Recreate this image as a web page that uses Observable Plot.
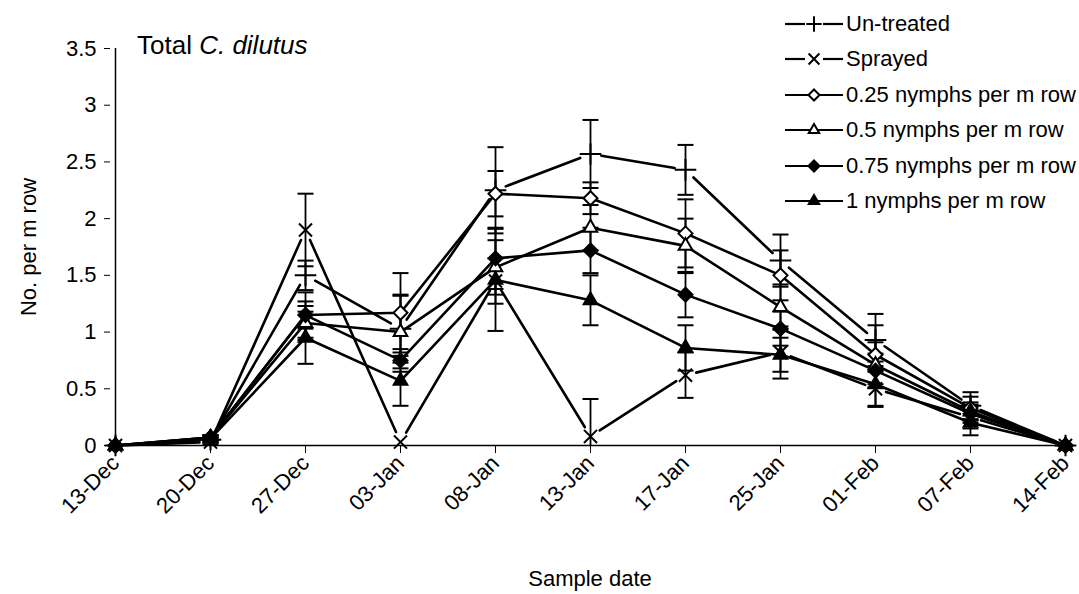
<!DOCTYPE html>
<html><head><meta charset="utf-8">
<script src="https://cdn.jsdelivr.net/npm/d3@7"></script>
<script src="https://cdn.jsdelivr.net/npm/@observablehq/plot@0.6"></script>
<style>
body{margin:0;background:#fff;font-family:"Liberation Sans",Arial,sans-serif;}
#wrap{position:relative;width:1079px;height:594px;overflow:hidden;}
#title{position:absolute;left:137px;top:30px;font-size:26px;color:#000;}
#legend{position:absolute;left:783px;top:6px;font-size:22px;color:#000;}
.row{display:flex;align-items:center;height:35.5px;}
.row svg{margin-right:1px;}
</style></head><body><div id="wrap"><div id="title">Total <i>C. dilutus</i></div><div id="legend"></div></div>
<script>
const dates = ["13-Dec","20-Dec","27-Dec","03-Jan","08-Jan","13-Jan","17-Jan","25-Jan","01-Feb","07-Feb","14-Feb"];
const yTicks = [0, 0.5, 1, 1.5, 2, 2.5, 3, 3.5];
const seriesNames = ["Un-treated","Sprayed","0.25 nymphs per m row","0.5 nymphs per m row","0.75 nymphs per m row","1 nymphs per m row"];

const untreated   = [0, 0.05, 1.50, 1.03, 2.25, 2.57, 2.43, 1.63, 0.93, 0.35, 0];
const sprayed     = [0, 0.03, 1.90, 0.03, 1.45, 0.08, 0.62, 0.82, 0.50, 0.25, 0];
const n025        = [0, 0.07, 1.15, 1.17, 2.22, 2.18, 1.87, 1.50, 0.80, 0.33, 0];
const n05         = [0, 0.07, 1.08, 1.00, 1.57, 1.92, 1.76, 1.22, 0.71, 0.30, 0];
const n075        = [0, 0.07, 1.15, 0.75, 1.65, 1.72, 1.33, 1.03, 0.66, 0.28, 0];
const n1          = [0, 0.06, 0.95, 0.57, 1.46, 1.28, 0.86, 0.80, 0.54, 0.20, 0];

const untreatedErr = [0, 0.02, 0.13, 0.30, 0.38, 0.30, 0.22, 0.23, 0.23, 0.12, 0];
const sprayedErr   = [0, 0.02, 0.32, 0.00, 0.20, 0.33, 0.20, 0.23, 0.15, 0.10, 0];
const n025Err      = [0, 0.02, 0.20, 0.35, 0.20, 0.14, 0.30, 0.22, 0.26, 0.10, 0];
const n05Err       = [0, 0.02, 0.15, 0.32, 0.24, 0.20, 0.24, 0.20, 0.20, 0.08, 0];
const n075Err      = [0, 0.02, 0.12, 0.10, 0.27, 0.20, 0.20, 0.15, 0.15, 0.08, 0];
const n1Err        = [0, 0.02, 0.23, 0.22, 0.45, 0.22, 0.20, 0.15, 0.20, 0.11, 0];

const values = [untreated, sprayed, n025, n05, n075, n1];
const errors = [untreatedErr, sprayedErr, n025Err, n05Err, n075Err, n1Err];
const symbols = ["plus","times","diamond2","triangle2","diamond2","triangle2"];
const fills = ["none","none","white","white","black","black"];
const gapped = [true, true, false, false, false, false];

const rows = [];
values.forEach((vals, i) => vals.forEach((v, j) => rows.push({
  series: seriesNames[i], si: i, date: dates[j], value: v, err: errors[i][j]
})));
const segs = [];
values.forEach((vals, i) => { if (gapped[i]) for (let j = 0; j < vals.length - 1; j++)
  segs.push({series: seriesNames[i], d1: dates[j], v1: vals[j], d2: dates[j+1], v2: vals[j+1]}); });

const errRows = rows.filter(d => d.err > 0);
const lowRows = errRows.filter(d => d.value - d.err >= 0);
const symR = {plus: 7, times: 6, diamond2: 6.3, triangle2: 6.5};
const capSymbol = {draw(ctx, size) { const w = Math.sqrt(size / Math.PI); ctx.moveTo(-w, 0); ctx.lineTo(w, 0); }};

const marks = [
  Plot.ruleY([0], {stroke: "black", strokeWidth: 1.5}),
  Plot.ruleX([dates[0]], {y1: 0, y2: 3.5, stroke: "black", strokeWidth: 1.5}),
  Plot.axisY({ticks: yTicks, tickFormat: d => String(d), tickSize: 6, tickPadding: 8, fontSize: 22,
    label: "No. per m row", labelAnchor: "center", labelArrow: "none", labelOffset: 90, stroke: "black"}),
  Plot.axisX({tickRotate: -45, tickSize: 8, tickPadding: 6, fontSize: 22, label: "Sample date",
    labelAnchor: "center", labelArrow: "none", labelOffset: 140, stroke: "black"}),
  Plot.ruleX(errRows, {x: "date", y1: d => Math.max(0, d.value - d.err), y2: d => d.value + d.err, stroke: "black", strokeWidth: 1.8}),
  Plot.dot(errRows, {x: "date", y: d => d.value + d.err, symbol: capSymbol, r: 8, stroke: "black", strokeWidth: 2}),
  Plot.dot(lowRows, {x: "date", y: d => d.value - d.err, symbol: capSymbol, r: 8, stroke: "black", strokeWidth: 2}),
  Plot.line(rows.filter(d => !gapped[d.si]), {x: "date", y: "value", z: "series", stroke: "black", strokeWidth: 2.6}),
  Plot.arrow(segs, {x1: "d1", y1: "v1", x2: "d2", y2: "v2", headLength: 0, insetStart: 11, insetEnd: 11, stroke: "black", strokeWidth: 2.6})
];
seriesNames.forEach((name, i) => {
  marks.push(Plot.dot(rows.filter(d => d.si === i), {
    x: "date", y: "value", symbol: symbols[i], r: symR[symbols[i]],
    fill: fills[i], stroke: "black", strokeWidth: 2
  }));
});

const chart = Plot.plot({
  width: 1079, height: 594,
  marginLeft: 110, marginRight: 10, marginTop: 48, marginBottom: 149,
  style: {fontFamily: '"Liberation Sans", Arial, sans-serif', fontSize: "22px", background: "white", color: "black", overflow: "visible"},
  x: {type: "point", domain: dates, padding: 0},
  y: {domain: [0, 3.5]},
  marks
});
const wrap = document.getElementById("wrap");
wrap.insertBefore(chart, wrap.firstChild);

// legend
const legend = d3.select("#legend");
const symMap = {plus: d3.symbolPlus, times: d3.symbolTimes, diamond2: d3.symbolDiamond2, triangle2: d3.symbolTriangle2};
seriesNames.forEach((name, i) => {
  const row = legend.append("div").attr("class", "row");
  const svg = row.append("svg").attr("width", 62).attr("height", 22);
  if (gapped[i]) {
    svg.append("line").attr("x1", 2).attr("x2", 22).attr("y1", 11).attr("y2", 11).attr("stroke", "black").attr("stroke-width", 2.2);
    svg.append("line").attr("x1", 40).attr("x2", 60).attr("y1", 11).attr("y2", 11).attr("stroke", "black").attr("stroke-width", 2.2);
  } else {
    svg.append("line").attr("x1", 2).attr("x2", 60).attr("y1", 11).attr("y2", 11).attr("stroke", "black").attr("stroke-width", 2.2);
  }
  svg.append("path").attr("transform", "translate(31,11)")
    .attr("d", d3.symbol(symMap[symbols[i]], Math.PI * 25)())
    .attr("fill", fills[i]).attr("stroke", "black").attr("stroke-width", 2);
  row.append("span").text(name);
});
</script></body></html>
